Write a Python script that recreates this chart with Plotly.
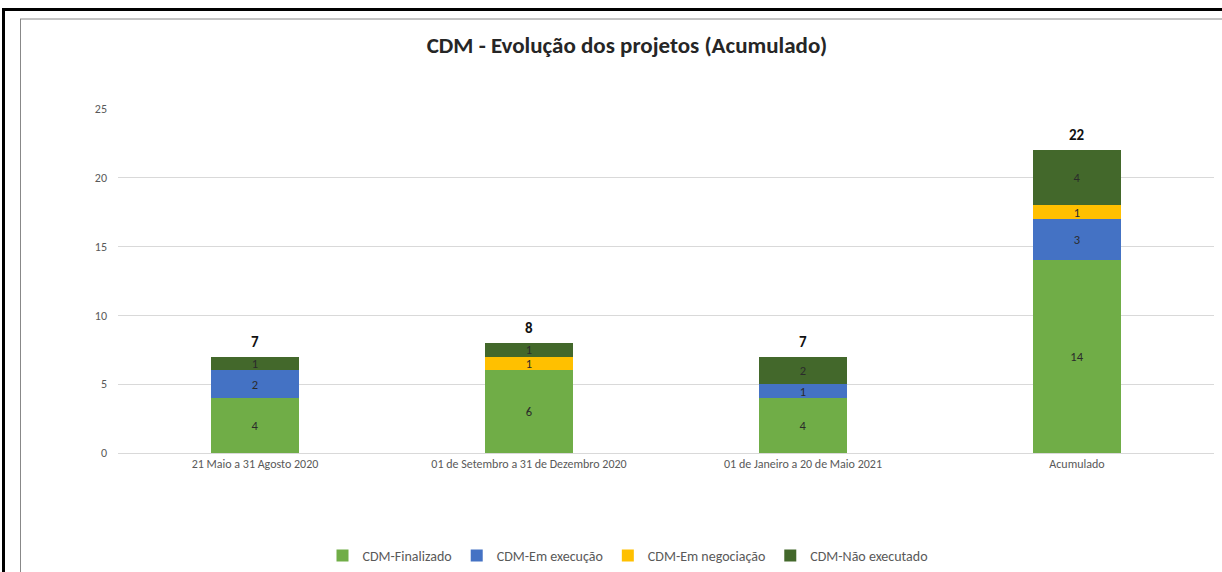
import plotly.graph_objects as go

periodos = ["21 Maio a 31 Agosto 2020", "01 de Setembro a 31 de Dezembro 2020",
            "01 de Janeiro a 20 de Maio 2021", "Acumulado"]
finalizado = [4, 6, 4, 14]
em_execucao = [2, None, 1, 3]
em_negociacao = [None, 1, None, 1]
nao_executado = [1, 1, 2, 4]

series = [
    ("CDM-Finalizado", finalizado, "#70AD47"),
    ("CDM-Em execução", em_execucao, "#4472C4"),
    ("CDM-Em negociação", em_negociacao, "#FFC000"),
    ("CDM-Não executado", nao_executado, "#43682B"),
]

FONT = "Carlito, Lato, Liberation Sans, sans-serif"

fig = go.Figure()
for nome, vals, cor in series:
    fig.add_trace(go.Bar(x=periodos, y=vals, name=nome, marker_color=cor,
                         marker_line_width=0,
                         text=vals, textposition="inside", insidetextanchor="middle",
                         textangle=0,
                         textfont=dict(size=12.5, color="#2b2b2b", family=FONT)))

totais = [sum(v or 0 for v in col) for col in zip(finalizado, em_execucao, em_negociacao, nao_executado)]
for p, t in zip(periodos, totais):
    fig.add_annotation(x=p, y=t, text=f"<b>{t}</b>", showarrow=False, yanchor="bottom",
                       yshift=4, font=dict(size=15, color="#111111", family=FONT))

# moldura
px2x = lambda px: (px - 118) / 1096
py2y = lambda py: (453 - py) / 344
fig.add_shape(type="line", xref="paper", yref="paper", x0=px2x(2), x1=px2x(1240),
              y0=py2y(9.5), y1=py2y(9.5), line=dict(color="black", width=3))
fig.add_shape(type="line", xref="paper", yref="paper", x0=px2x(3.5), x1=px2x(3.5),
              y0=py2y(8), y1=py2y(600), line=dict(color="black", width=3))
fig.add_shape(type="line", xref="paper", yref="paper", x0=px2x(20), x1=px2x(1240),
              y0=py2y(19), y1=py2y(19), line=dict(color="#888888", width=1))
fig.add_shape(type="line", xref="paper", yref="paper", x0=px2x(20.5), x1=px2x(20.5),
              y0=py2y(19), y1=py2y(600), line=dict(color="#888888", width=1))

fig.update_layout(
    barmode="stack", bargap=0.68,
    width=1222, height=572,
    margin=dict(l=118, r=8, t=109, b=119),
    plot_bgcolor="white", paper_bgcolor="white",
    font=dict(family=FONT, size=11, color="#595959"),
    title=dict(text="<b>CDM - Evolução dos projetos (Acumulado)</b>", x=0.513, xanchor="center",
               y=1 - 45 / 572, yanchor="middle", font=dict(size=23, color="#262626", family=FONT)),
    legend=dict(orientation="h", x=628 / 1222, xref="container", xanchor="center",
                y=1 - 556 / 572, yref="container", yanchor="middle",
                font=dict(size=14, color="#595959"), traceorder="normal", itemwidth=30),
    uniformtext=dict(minsize=11, mode="show"),
    showlegend=True,
)
fig.update_xaxes(showgrid=False, showline=True, linecolor="#D9D9D9", ticks="",
                 automargin=False, tickfont=dict(size=12, color="#595959"))
fig.update_yaxes(range=[0, 25], dtick=5, gridcolor="#D9D9D9", zeroline=False,
                 automargin=False, ticks="", ticklabelstandoff=10,
                 tickfont=dict(size=12, color="#595959"))

fig.write_html("out.html", config={"displayModeBar": False},
               post_script="document.body.style.margin='0';document.body.style.overflow='hidden';")
